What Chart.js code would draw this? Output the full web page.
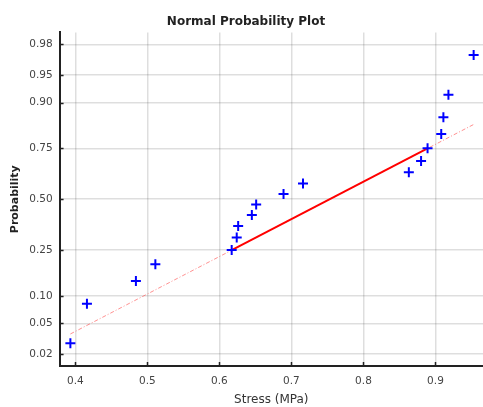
<!DOCTYPE html>
<html>
<head>
<meta charset="utf-8">
<script src="https://cdn.jsdelivr.net/npm/chart.js@4/dist/chart.umd.min.js"></script>
<style>
  html, body { margin: 0; padding: 0; background: #fff; }
  #wrap { width: 483px; height: 407px; }
</style>
</head>
<body>
<div id="wrap"><canvas id="c" width="483" height="407"></canvas></div>
<script>
// ---- data ----
const stress = [0.393, 0.416, 0.484, 0.511, 0.617, 0.624, 0.626, 0.645, 0.651, 0.689, 0.716, 0.863, 0.880, 0.889, 0.908, 0.911, 0.918, 0.953];
const prob   = [0.028, 0.083, 0.139, 0.194, 0.250, 0.306, 0.361, 0.417, 0.472, 0.528, 0.583, 0.639, 0.694, 0.750, 0.806, 0.861, 0.917, 0.972];
const fitStress = [0.617, 0.889];
const fitProb   = [0.25, 0.75];
const extStress = [0.393, 0.953];
const extProb   = [0.037, 0.839];
const probTicks = [0.02, 0.05, 0.10, 0.25, 0.50, 0.75, 0.90, 0.95, 0.98];
const probTickLabels = ['0.02', '0.05', '0.10', '0.25', '0.50', '0.75', '0.90', '0.95', '0.98'];
const stressTicks = [0.4, 0.5, 0.6, 0.7, 0.8, 0.9];
const stressTickLabels = ['0.4', '0.5', '0.6', '0.7', '0.8', '0.9'];

// inverse standard normal CDF (probability scale transform)
function probit(p) {
  const a = [-3.969683028665376e+01, 2.209460984245205e+02, -2.759285104469687e+02, 1.383577518672690e+02, -3.066479806614716e+01, 2.506628277459239e+00];
  const b = [-5.447609879822406e+01, 1.615858368580409e+02, -1.556989798598866e+02, 6.680131188771972e+01, -1.328068155288572e+01];
  const c = [-7.784894002430293e-03, -3.223964580411365e-01, -2.400758277161838e+00, -2.549732539343734e+00, 4.374664141464968e+00, 2.938163982698783e+00];
  const d = [7.784695709041462e-03, 3.224671290700398e-01, 2.445134137142996e+00, 3.754408661907416e+00];
  const pl = 0.02425;
  let q, r;
  if (p < pl) {
    q = Math.sqrt(-2 * Math.log(p));
    return (((((c[0]*q+c[1])*q+c[2])*q+c[3])*q+c[4])*q+c[5]) / ((((d[0]*q+d[1])*q+d[2])*q+d[3])*q+1);
  } else if (p <= 1 - pl) {
    q = p - 0.5; r = q*q;
    return (((((a[0]*r+a[1])*r+a[2])*r+a[3])*r+a[4])*r+a[5])*q / (((((b[0]*r+b[1])*r+b[2])*r+b[3])*r+b[4])*r+1);
  } else {
    q = Math.sqrt(-2 * Math.log(1 - p));
    return -(((((c[0]*q+c[1])*q+c[2])*q+c[3])*q+c[4])*q+c[5]) / ((((d[0]*q+d[1])*q+d[2])*q+d[3])*q+1);
  }
}

const toPts = (xs, ps) => xs.map((x, i) => ({ x: x, y: probit(ps[i]) }));
const probZ = probTicks.map(probit);

const FONT = '"DejaVu Sans", Verdana, sans-serif';

const innerTicks = {
  id: 'innerTicks',
  afterDatasetsDraw(chart) {
    const ctx = chart.ctx, xs = chart.scales.x, ys = chart.scales.y;
    const area = chart.chartArea;
    ctx.save();
    ctx.strokeStyle = '#222';
    ctx.lineWidth = 1.5;
    ctx.beginPath();
    stressTicks.forEach(v => {
      const px = Math.round(xs.getPixelForValue(v)) + 0.5;
      ctx.moveTo(px, area.bottom); ctx.lineTo(px, area.bottom - 4);
    });
    probZ.forEach(z => {
      const py = Math.round(ys.getPixelForValue(z)) + 0.5;
      ctx.moveTo(area.left, py); ctx.lineTo(area.left + 4, py);
    });
    ctx.stroke();
    ctx.restore();
  }
};

new Chart(document.getElementById('c'), {
  type: 'scatter',
  data: {
    datasets: [
      {
        label: 'extension',
        data: toPts(extStress, extProb),
        showLine: true,
        borderColor: 'rgba(255,70,70,0.6)',
        borderWidth: 1,
        borderDash: [4, 2, 1, 2],
        pointRadius: 0,
        order: 3
      },
      {
        label: 'fit',
        data: toPts(fitStress, fitProb),
        showLine: true,
        borderColor: 'rgb(255,0,0)',
        borderWidth: 2,
        pointRadius: 0,
        order: 2
      },
      {
        label: 'data',
        data: toPts(stress, prob),
        pointStyle: 'cross',
        pointRadius: 5,
        pointBorderWidth: 2,
        borderColor: 'rgb(0,0,255)',
        backgroundColor: 'rgb(0,0,255)',
        showLine: false,
        order: 1
      }
    ]
  },
  options: {
    responsive: false,
    animation: false,
    layout: { autoPadding: false, padding: { left: 9, right: 0, top: 0, bottom: 0 } },
    plugins: {
      legend: { display: false },
      tooltip: { enabled: false },
      title: {
        display: true,
        text: 'Normal Probability Plot',
        color: '#222',
        font: { family: FONT, size: 12, weight: 'bold' },
        padding: { top: 15, bottom: 3 }
      }
    },
    scales: {
      x: {
        type: 'linear',
        min: 0.378,
        max: 0.966,
        afterBuildTicks(scale) { scale.ticks = stressTicks.map(v => ({ value: v })); },
        ticks: {
          callback: (v) => stressTickLabels[stressTicks.findIndex(t => Math.abs(t - v) < 1e-9)],
          color: '#444',
          font: { family: FONT, size: 10.5 },
          padding: 9,
          maxRotation: 0
        },
        grid: { color: 'rgba(0,0,0,0.13)', lineWidth: 1.5, drawTicks: false },
        border: { display: true, color: '#222', width: 2 },
        title: {
          display: true,
          text: 'Stress (MPa)',
          color: '#333',
          font: { family: FONT, size: 12 },
          padding: { top: -4, bottom: 0 }
        }
      },
      y: {
        type: 'linear',
        min: -2.211,
        max: 2.211,
        afterBuildTicks(scale) { scale.ticks = probZ.map(v => ({ value: v })); },
        ticks: {
          callback: (v) => probTickLabels[probZ.findIndex(t => Math.abs(t - v) < 1e-9)],
          color: '#444',
          font: { family: FONT, size: 10.5 },
          padding: 7
        },
        grid: { color: 'rgba(0,0,0,0.13)', lineWidth: 1.5, drawTicks: false },
        border: { display: true, color: '#222', width: 2 },
        title: {
          display: true,
          text: 'Probability',
          color: '#222',
          font: { family: FONT, size: 11, weight: 'bold' },
          padding: { top: 0, bottom: 0 }
        }
      }
    }
  },
  plugins: [innerTicks]
});
</script>
</body>
</html>
